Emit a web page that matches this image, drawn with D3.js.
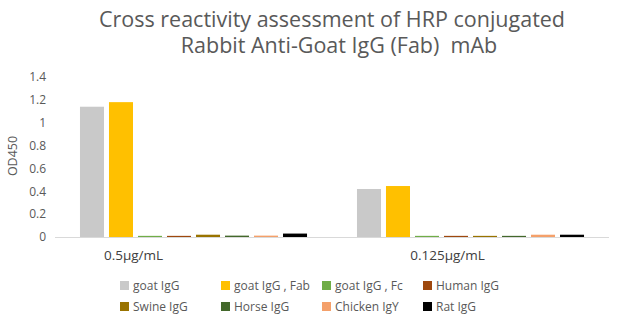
<!DOCTYPE html>
<html>
<head>
<meta charset="utf-8">
<script src="https://cdn.jsdelivr.net/npm/d3@7"></script>
<style>
  html, body { margin: 0; padding: 0; background: #fff; }
  svg { display: block; font-family: "Open Sans", "Noto Sans", sans-serif; }
  .title tspan { white-space: pre; }
</style>
</head>
<body>
<svg id="chart" width="626" height="326"></svg>
<script>
// Concentrations on the x axis
const categories = ["0.5μg/mL", "0.125μg/mL"];
// Antibodies tested
const series = ["goat IgG", "goat IgG , Fab", "goat IgG , Fc", "Human IgG",
                "Swine IgG", "Horse IgG", "Chicken IgY", "Rat IgG"];
// OD450 readings, one array per concentration, in series order
const od_0_5   = [1.14, 1.18, 0.01, 0.01, 0.02, 0.012, 0.012, 0.03];
const od_0_125 = [0.42, 0.446, 0.01, 0.01, 0.01, 0.01, 0.02, 0.02];
const yTicks = [0, 0.2, 0.4, 0.6, 0.8, 1, 1.2, 1.4];
const colors = ["#C9C9C9", "#FFC000", "#70AD47", "#9E480E",
                "#997300", "#43682B", "#F4A06A", "#000000"];
const titleLines = ["Cross reactivity assessment of HRP conjugated",
                    "Rabbit Anti-Goat IgG (Fab)  mAb"];

const values = [od_0_5, od_0_125];
const svg = d3.select("#chart");

const x0 = d3.scaleBand().domain(categories).range([55, 609]).padding(0);
const x1 = d3.scaleBand().domain(series).range([0, x0.bandwidth()])
  .paddingInner(0.172).paddingOuter(0.861);
const y = d3.scaleLinear().domain([0, 1.4]).range([237, 77]);
const color = d3.scaleOrdinal().domain(series).range(colors);

// Title
svg.append("text").attr("class", "title")
  .attr("text-anchor", "middle")
  .attr("fill", "#595959").attr("font-size", 21.5)
  .selectAll("tspan").data(titleLines).join("tspan")
  .attr("x", (d, i) => i === 0 ? 332 : 339)
  .attr("y", (d, i) => 27 + i * 26)
  .text(d => d);

// Y axis labels
const yAxis = svg.append("g").attr("transform", "translate(46,0)")
  .call(d3.axisLeft(y).tickValues(yTicks).tickSize(0).tickPadding(0)
    .tickFormat(d3.format("")));
yAxis.select(".domain").remove();
yAxis.selectAll("text").attr("fill", "#595959").attr("font-size", 12)
  .attr("font-family", "Open Sans, Noto Sans, sans-serif");

svg.append("text")
  .attr("transform", "translate(17,156) rotate(-90)")
  .attr("text-anchor", "middle").attr("fill", "#595959").attr("font-size", 12.5)
  .text("OD450");

// Bars
const groups = svg.append("g").selectAll("g").data(categories).join("g")
  .attr("transform", d => `translate(${x0(d)},0)`);
groups.selectAll("rect")
  .data((c, ci) => series.map((s, si) => ({ s, v: values[ci][si] })))
  .join("rect")
  .attr("x", d => x1(d.s))
  .attr("width", x1.bandwidth())
  .attr("y", d => y(d.v))
  .attr("height", d => y(0) - y(d.v))
  .attr("fill", d => color(d.s));

// Baseline
svg.append("line")
  .attr("x1", 55).attr("x2", 609).attr("y1", y(0) + 0.5).attr("y2", y(0) + 0.5)
  .attr("stroke", "#D9D9D9").attr("stroke-width", 1);

// Category labels
const labelShift = [-60, -23];
const xAxis = svg.append("g").attr("transform", `translate(0,${y(0)})`)
  .call(d3.axisBottom(x0).tickSize(0).tickPadding(13));
xAxis.select(".domain").remove();
xAxis.selectAll("text").attr("fill", "#404040").attr("font-size", 13.5)
  .attr("font-family", "Open Sans, Noto Sans, sans-serif")
  .attr("dx", (d, i) => labelShift[i]);

// Legend: two rows of four equal-width columns
const legendLeft = 120, colWidth = 101;
const legend = svg.append("g").selectAll("g").data(series).join("g")
  .attr("transform", (d, i) =>
    `translate(${legendLeft + (i % 4) * colWidth},${286 + Math.floor(i / 4) * 21})`);
legend.append("rect").attr("x", 0).attr("y", -5).attr("width", 9).attr("height", 9)
  .attr("fill", d => color(d));
legend.append("text").attr("x", 13).attr("y", 0).attr("dy", "0.35em")
  .attr("fill", "#595959").attr("font-size", 12)
  .text(d => d);
</script>
</body>
</html>
